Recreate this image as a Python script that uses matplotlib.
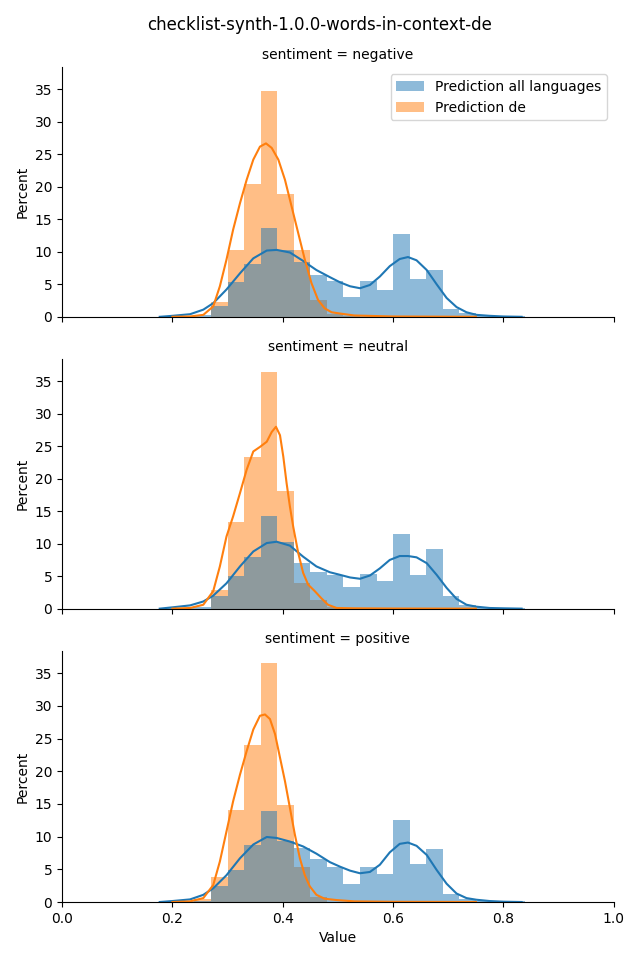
import numpy as np
import matplotlib
matplotlib.use("Agg")
import matplotlib.pyplot as plt

# bins shared by both hues
bin_lo, bin_hi, n_bins = 0.18, 0.84, 22

panels = ["negative", "neutral", "positive"]

# histogram heights (percent) per bin
all_neg = [0.1, 0.1, 0.3, 1.7, 5.3, 8.2, 13.7, 10.3, 8.5, 6.5, 5.5, 3.1, 5.5, 4.2, 12.8, 5.8, 7.2, 1.2, 0.6, 0.3, 0.2, 0.15]
de_neg = [0, 0, 0, 2.35, 10.3, 20.5, 34.8, 18.9, 10.3, 2.6, 0.5, 0.1, 0, 0, 0, 0, 0, 0, 0, 0, 0, 0]
all_neu = [0.1, 0.1, 0.3, 2.0, 5.0, 7.9, 14.3, 10.3, 7.0, 5.7, 5.2, 3.3, 5.3, 4.3, 11.5, 5.2, 9.2, 2.0, 0.6, 0.2, 0.1, 0.1]
de_neu = [0, 0, 0, 2.9, 13.4, 23.4, 36.5, 18.1, 3.9, 1.4, 0.2, 0, 0, 0, 0, 0, 0, 0, 0, 0, 0, 0]
all_pos = [0.2, 0.2, 0.2, 2.4, 4.9, 8.8, 13.9, 9.3, 8.2, 6.6, 5.3, 2.8, 5.3, 4.3, 12.6, 5.8, 8.1, 1.2, 0.5, 0.2, 0.2, 0.15]
de_pos = [0, 0, 0.4, 3.9, 14.1, 24.1, 36.6, 14.9, 5.4, 0.8, 0, 0, 0, 0, 0, 0, 0, 0, 0, 0, 0, 0]

# density curves
kde_all_x = [0.177, 0.20, 0.232, 0.256, 0.274, 0.298, 0.3225, 0.3466, 0.371, 0.389, 0.413, 0.437,
             0.461, 0.4855, 0.504, 0.522, 0.540, 0.558, 0.576, 0.594, 0.612, 0.627, 0.6425, 0.661,
             0.679, 0.697, 0.715, 0.733, 0.751, 0.775, 0.80, 0.833]
kde_all_neg = [0, 0.15, 0.4, 1.1, 2.1, 4.2, 6.7, 9.0, 10.2, 10.3, 9.9, 8.6, 7.2, 6.1, 5.3, 4.7,
               4.4, 4.9, 6.2, 7.8, 8.9, 9.2, 8.7, 7.2, 5.0, 2.9, 1.5, 0.7, 0.3, 0.15, 0.05, 0]
kde_all_neu = [0, 0.2, 0.5, 1.1, 2.0, 3.9, 6.5, 8.8, 10.1, 10.3, 9.7, 8.0, 6.5, 5.6, 5.2, 4.8,
               4.6, 5.1, 6.2, 7.5, 8.1, 8.1, 7.9, 7.0, 5.2, 3.2, 1.5, 0.6, 0.3, 0.1, 0.05, 0]
kde_all_pos = [0, 0.15, 0.4, 1.1, 2.1, 4.1, 6.7, 8.8, 9.95, 9.8, 9.25, 8.5, 7.4, 6.1, 5.4, 4.8,
               4.4, 4.6, 5.7, 7.6, 8.9, 9.1, 8.6, 7.2, 4.9, 2.8, 1.3, 0.6, 0.35, 0.15, 0.05, 0]

kde_de_neg_x = [0.20, 0.232, 0.256, 0.274, 0.286, 0.298, 0.310, 0.3225, 0.3346, 0.3466, 0.3587, 0.3696,
                0.380, 0.392, 0.404, 0.416, 0.428, 0.440, 0.452, 0.464, 0.476, 0.4886, 0.504, 0.53, 0.60, 0.75]
kde_de_neg = [0, 0.05, 0.3, 1.6, 4.7, 8.8, 13.4, 17.5, 21.1, 24.2, 26.2, 26.7,
              26.0, 24.2, 21.1, 17.0, 12.9, 8.8, 5.2, 2.6, 1.3, 0.7, 0.5, 0.2, 0.05, 0]
kde_de_neu_x = [0.20, 0.232, 0.256, 0.274, 0.286, 0.298, 0.310, 0.3225, 0.3346, 0.3466, 0.3587, 0.371,
                0.380, 0.3877, 0.395, 0.401, 0.407, 0.413, 0.419, 0.428, 0.437, 0.446, 0.458, 0.470,
                0.482, 0.4976, 0.53, 0.60, 0.75]
kde_de_neu = [0, 0.1, 0.6, 2.7, 6.5, 11.1, 14.2, 17.8, 21.4, 24.2, 24.9, 25.7,
              27.2, 28.0, 26.7, 23.4, 19.3, 15.7, 12.6, 8.6, 5.5, 3.7, 2.7, 1.6,
              0.6, 0.1, 0.05, 0.02, 0]
kde_de_pos_x = [0.20, 0.232, 0.256, 0.274, 0.286, 0.298, 0.310, 0.3225, 0.3346, 0.3466, 0.3587, 0.3678,
                0.3768, 0.386, 0.395, 0.404, 0.413, 0.422, 0.431, 0.440, 0.449, 0.461, 0.476, 0.4976,
                0.53, 0.60, 0.75]
kde_de_pos = [0, 0.1, 0.6, 2.6, 6.2, 10.8, 15.4, 19.5, 23.1, 26.4, 28.5, 28.7,
              28.0, 25.7, 22.1, 18.5, 14.4, 10.3, 6.7, 4.1, 2.4, 1.1, 0.5, 0.3,
              0.1, 0.03, 0]

hist_all = [all_neg, all_neu, all_pos]
hist_de = [de_neg, de_neu, de_pos]
kde_all = [kde_all_neg, kde_all_neu, kde_all_pos]
kde_de = [(kde_de_neg_x, kde_de_neg), (kde_de_neu_x, kde_de_neu), (kde_de_pos_x, kde_de_pos)]

edges = np.linspace(bin_lo, bin_hi, n_bins + 1)
width = edges[1] - edges[0]

fig = plt.figure(figsize=(6.4, 9.6), dpi=100)
axes_pos = [(0.097, 0.670, 0.862, 0.260),
            (0.097, 0.366, 0.862, 0.260),
            (0.097, 0.0604, 0.862, 0.2616)]
axes = []
for pos in axes_pos:
    ax = fig.add_axes(pos, sharex=axes[0] if axes else None, sharey=axes[0] if axes else None)
    axes.append(ax)

for i, ax in enumerate(axes):
    ax.bar(edges[:-1], hist_de[i], width=width, align="edge", color="C1", alpha=0.5,
           linewidth=0, label="Prediction de")
    ax.bar(edges[:-1], hist_all[i], width=width, align="edge", color="C0", alpha=0.5,
           linewidth=0, label="Prediction all languages")
    ax.plot(kde_all_x, kde_all[i], color="C0", lw=1.5, solid_joinstyle="round")
    ax.plot(kde_de[i][0], kde_de[i][1], color="C1", lw=1.5, solid_joinstyle="round")
    ax.set_title(f"sentiment = {panels[i]}", fontsize=10)
    ax.set_ylabel("Percent")
    ax.spines["top"].set_visible(False)
    ax.spines["right"].set_visible(False)
    if i < 2:
        ax.tick_params(labelbottom=False)

axes[0].set_xlim(0, 1)
axes[0].set_ylim(0, 38.43)
axes[0].set_yticks([0, 5, 10, 15, 20, 25, 30, 35])
axes[2].set_xlabel("Value")

h, l = axes[0].get_legend_handles_labels()
axes[0].legend([h[1], h[0]], [l[1], l[0]], loc="upper right")

fig.suptitle("checklist-synth-1.0.0-words-in-context-de", y=0.983, fontsize=12)
fig.savefig("out.png", dpi=100)
